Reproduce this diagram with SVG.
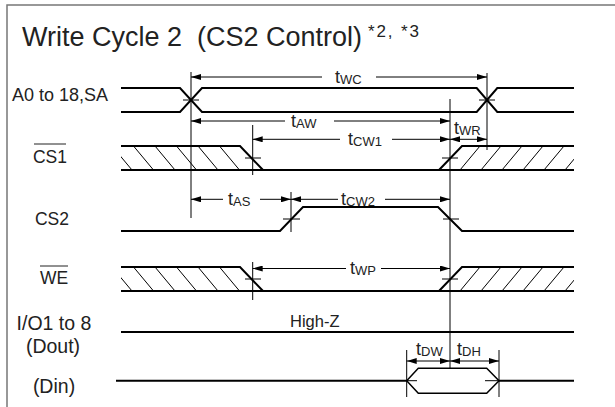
<svg xmlns="http://www.w3.org/2000/svg" width="615" height="407" viewBox="0 0 615 407">
<style>
text{font-family:"Liberation Sans",Arial,sans-serif;fill:#222}
.lbl{font-size:18px;text-anchor:middle}
.lbs{font-size:17.5px;text-anchor:middle}
.tm{font-size:18px}
.sub{font-size:13px}
.sig{fill:none;stroke:#000;stroke-width:2}
.thin{fill:none;stroke:#000;stroke-width:1}
.hatch{stroke:#000;stroke-width:1}
.arr{stroke:#000;stroke-width:1;fill:none;marker-end:url(#ah)}
.arr2{stroke:#000;stroke-width:1;fill:none;marker-end:url(#ah);marker-start:url(#ah)}
</style>
<defs>
<marker id="ah" markerUnits="userSpaceOnUse" markerWidth="10" markerHeight="6" refX="10" refY="3" orient="auto-start-reverse">
<path d="M0,0 L10,3 L0,6 z" fill="#000"/>
</marker>
<clipPath id="cs1L"><polygon points="121,146 240,146 263,170 121,170"/></clipPath>
<clipPath id="cs1R"><polygon points="439,170 462,146 574,146 574,170"/></clipPath>
<clipPath id="weL"><polygon points="121,267 240,267 263,291 121,291"/></clipPath>
<clipPath id="weR"><polygon points="439,291 462,267 574,267 574,291"/></clipPath>
<g id="hatchL"><line x1="112" y1="0" x2="132" y2="24"/><line x1="133.5" y1="0" x2="153.5" y2="24"/><line x1="155" y1="0" x2="175" y2="24"/><line x1="176.5" y1="0" x2="196.5" y2="24"/><line x1="198" y1="0" x2="218" y2="24"/><line x1="219.5" y1="0" x2="239.5" y2="24"/></g>
<g id="hatchR"><line x1="460" y1="24" x2="480" y2="0"/><line x1="481" y1="24" x2="501" y2="0"/><line x1="502" y1="24" x2="522" y2="0"/><line x1="523" y1="24" x2="543" y2="0"/><line x1="544" y1="24" x2="564" y2="0"/><line x1="565" y1="24" x2="585" y2="0"/></g>
</defs>
<rect width="615" height="407" fill="#fff"/>
<path d="M7,410 V5 H620" fill="none" stroke="#777" stroke-width="1.5"/>
<g id="title">
<text x="22" y="46" style="font-size:27px" xml:space="preserve">Write Cycle 2  (CS2 Control)</text>
<text x="368" y="37" style="font-size:17px" textLength="51">*2, *3</text>
</g>
<g id="labels">
<text class="lbl" x="60" y="101">A0 to 18,SA</text>
<text class="lbs" x="50" y="163">CS1</text><line x1="34" y1="144" x2="66" y2="144" stroke="#222" stroke-width="1"/>
<text class="lbs" x="52" y="225">CS2</text>
<text class="lbs" x="54" y="284">WE</text><line x1="40" y1="266" x2="68" y2="266" stroke="#222" stroke-width="1"/>
<text class="lbl" x="54" y="330" style="font-size:19.5px">I/O1 to 8</text>
<text class="lbl" x="53" y="353" style="font-size:19.5px">(Dout)</text>
<text class="lbl" x="54" y="393" style="font-size:19.5px">(Din)</text>
</g>
<g id="sig-addr">
<path class="sig" d="M121,88 H180 L202,112 H476.7 L497.3,88 H574"/>
<path class="sig" d="M121,112 H180 L202,88 H476.7 L497.3,112 H574"/>
</g>
<g id="sig-cs1">
<path class="sig" d="M121,146 H240 L263,170"/>
<path class="sig" d="M121,170 H574"/>
<path class="sig" d="M439,170 L462,146 H574"/>
<g class="hatch" clip-path="url(#cs1L)"><use href="#hatchL" transform="translate(0,146)"/></g>
<g class="hatch" clip-path="url(#cs1R)"><use href="#hatchR" transform="translate(0,146)"/></g>
</g>
<g id="sig-cs2">
<path class="sig" d="M121,231 H280 L303,207 H438 L462,231 H574"/>
</g>
<g id="sig-we">
<path class="sig" d="M121,267 H240 L263,291"/>
<path class="sig" d="M121,291 H574"/>
<path class="sig" d="M439,291 L462,267 H574"/>
<g class="hatch" clip-path="url(#weL)"><use href="#hatchL" transform="translate(0,267)"/></g>
<g class="hatch" clip-path="url(#weR)"><use href="#hatchR" transform="translate(0,267)"/></g>
</g>
<g id="sig-dout">
<path class="sig" d="M121,332 H574"/>
<text x="290" y="327" style="font-size:16.5px">High-Z</text>
</g>
<g id="sig-din">
<path class="sig" d="M116,380.7 H406.7 M499,380.7 H574" stroke-width="1.5"/>
<path class="thin" style="stroke-width:1.5" d="M406.7,380.7 L418.3,368.3 H486.7 L499,380.7 L486.7,393.3 H418.3 Z"/>
</g>
<g id="connectors">
<g class="thin">
<line x1="191" y1="72" x2="191" y2="218"/>
<line x1="487" y1="73" x2="487" y2="150"/>
<line x1="252.7" y1="125" x2="252.7" y2="175"/>
<line x1="252.7" y1="262" x2="252.7" y2="300"/>
<line x1="291" y1="192" x2="291" y2="232"/>
<line x1="450" y1="99" x2="450" y2="368"/>
<line x1="406.7" y1="350" x2="406.7" y2="397"/>
<line x1="499" y1="350" x2="499" y2="397"/>
<line x1="183" y1="100" x2="199" y2="100"/>
<line x1="479" y1="100" x2="495" y2="100"/>
<line x1="245" y1="158" x2="261" y2="158"/>
<line x1="442" y1="158" x2="458" y2="158"/>
<line x1="283" y1="219" x2="300" y2="219"/>
<line x1="443" y1="219" x2="459" y2="219"/>
<line x1="245" y1="279" x2="261" y2="279"/>
<line x1="442" y1="279" x2="458" y2="279"/>
<line x1="406.7" y1="380.7" x2="417" y2="380.7"/>
<line x1="485" y1="380.7" x2="499" y2="380.7"/>
</g>
<line class="arr" x1="322" y1="77" x2="191" y2="77"/>
<line class="arr" x1="376" y1="77" x2="487" y2="77"/>
<line class="arr" x1="285" y1="121" x2="191" y2="121"/>
<line class="arr" x1="334" y1="121" x2="450" y2="121"/>
<line class="arr" x1="340" y1="139.3" x2="252.7" y2="139.3"/>
<line class="arr" x1="392" y1="139.3" x2="450" y2="139.3"/>
<line class="arr2" x1="450" y1="139.3" x2="487" y2="139.3"/>
<line class="arr" x1="223" y1="199.3" x2="191" y2="199.3"/>
<line class="arr" x1="260" y1="199.3" x2="291" y2="199.3"/>
<line class="arr" x1="338" y1="199.3" x2="291" y2="199.3"/>
<line class="arr" x1="385" y1="199.3" x2="450" y2="199.3"/>
<line class="arr" x1="346" y1="268.5" x2="252.7" y2="268.5"/>
<line class="arr" x1="381" y1="268.5" x2="450" y2="268.5"/>
<line class="arr2" x1="406.7" y1="361" x2="450" y2="361"/>
<line class="arr2" x1="450" y1="361" x2="499" y2="361"/>
</g>
<g id="timing-labels">
<text class="tm" x="335" y="83">t<tspan class="sub" dy="1">WC</tspan></text>
<text class="tm" x="291" y="127">t<tspan class="sub" dy="1">AW</tspan></text>
<text class="tm" x="348" y="145">t<tspan class="sub" dy="1">CW1</tspan></text>
<text class="tm" x="454" y="134">t<tspan class="sub" dy="1">WR</tspan></text>
<text class="tm" x="228" y="205">t<tspan class="sub" dy="1">AS</tspan></text>
<text class="tm" x="341" y="205">t<tspan class="sub" dy="1">CW2</tspan></text>
<text class="tm" x="350" y="274">t<tspan class="sub" dy="1">WP</tspan></text>
<text class="tm" x="416" y="355">t<tspan class="sub" dy="1">DW</tspan></text>
<text class="tm" x="457" y="355">t<tspan class="sub" dy="1">DH</tspan></text>
</g>
</svg>
